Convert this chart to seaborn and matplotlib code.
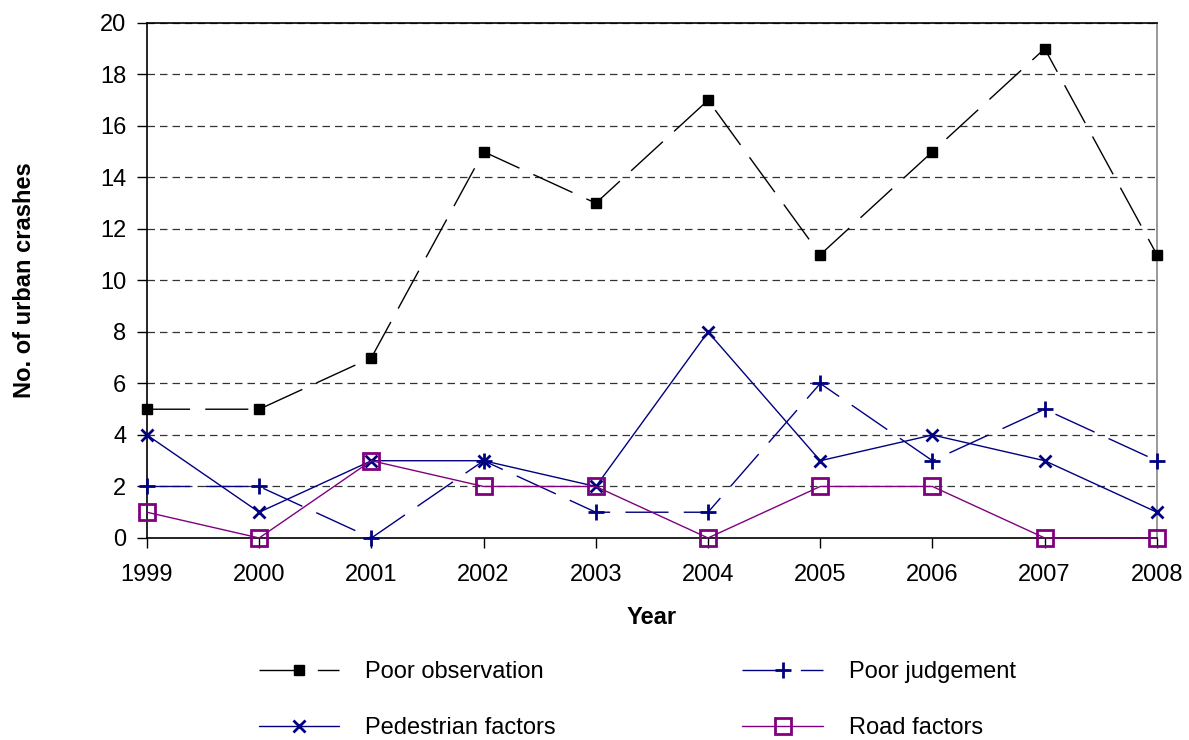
import pandas as pd
import matplotlib
matplotlib.use("Agg")
import matplotlib.pyplot as plt
import seaborn as sns

years = [1999, 2000, 2001, 2002, 2003, 2004, 2005, 2006, 2007, 2008]
poor_observation = [5, 5, 7, 15, 13, 17, 11, 15, 19, 11]
poor_judgement = [2, 2, 0, 3, 1, 1, 6, 3, 5, 3]
pedestrian_factors = [4, 1, 3, 3, 2, 8, 3, 4, 3, 1]
road_factors = [1, 0, 3, 2, 2, 0, 2, 2, 0, 0]

series = {
    "Poor observation": poor_observation,
    "Poor judgement": poor_judgement,
    "Pedestrian factors": pedestrian_factors,
    "Road factors": road_factors,
}

sns.set_theme(style="white")
plt.rcParams["font.family"] = ["Liberation Sans", "DejaVu Sans"]
for k in ["text.color", "axes.labelcolor", "xtick.color", "ytick.color"]:
    plt.rcParams[k] = "black"

FS = 17

fig = plt.figure(figsize=(11.89, 7.4), dpi=100)
ax = fig.add_axes([0.1236, 0.273, 0.973 - 0.1236, 0.969 - 0.273])

# style per series
styles = {
    "Poor observation": dict(color="black", marker="s", markersize=7, markerfacecolor="black",
                             markeredgecolor="black", markeredgewidth=1, dashes=(31, 11)),
    "Poor judgement": dict(color="#000080", marker="+", markersize=11, markeredgewidth=2,
                           markeredgecolor="#000080", dashes=(31, 11)),
    "Pedestrian factors": dict(color="#000080", marker="x", markersize=8, markeredgewidth=2,
                               markeredgecolor="#000080"),
    "Road factors": dict(color="#800080", marker="s", markersize=12, markerfacecolor="none",
                         markeredgecolor="#800080", markeredgewidth=2),
}

handles = {}
for name, vals in series.items():
    df = pd.DataFrame({"Year": years, "Count": vals})
    kw = dict(styles[name])
    dashes = kw.pop("dashes", None)
    n_before = len(ax.lines)
    sns.lineplot(data=df, x="Year", y="Count", ax=ax, linewidth=1, clip_on=False,
                 zorder=3, legend=False, **kw)
    line = ax.lines[n_before]
    if dashes is not None:
        line.set_dashes(dashes)
    handles[name] = line

ax.set_xlim(1999, 2008)
ax.set_ylim(0, 20)
ax.set_xticks(years)
ax.set_yticks(range(0, 21, 2))
ax.tick_params(axis="both", labelsize=FS, direction="out", length=7, width=1,
               bottom=True, left=True, colors="black")
ax.tick_params(axis="y", pad=8)
ax.tick_params(axis="x", pad=12)
ax.yaxis.grid(True, linestyle=(0, (6, 4)), color="#333333", linewidth=0.9)
ax.xaxis.grid(False)
ax.set_axisbelow(True)

for s in ["left", "bottom", "top"]:
    ax.spines[s].set_color("black")
    ax.spines[s].set_linewidth(1.2)
ax.spines["right"].set_color("#888888")
ax.spines["right"].set_linewidth(1.2)

ax.set_xlabel("Year", fontsize=FS, fontweight="bold", labelpad=14)
ax.set_ylabel("No. of urban crashes", fontsize=FS, fontweight="bold", labelpad=46)

order = ["Poor observation", "Pedestrian factors", "Poor judgement", "Road factors"]
fig.legend([handles[n] for n in order], order,
           loc="center", bbox_to_anchor=(0.536, 0.054), ncol=2, frameon=False,
           fontsize=FS, handlelength=3.4, handletextpad=1.1, columnspacing=7.9,
           labelspacing=1.42)

fig.savefig("out.png", dpi=100)
